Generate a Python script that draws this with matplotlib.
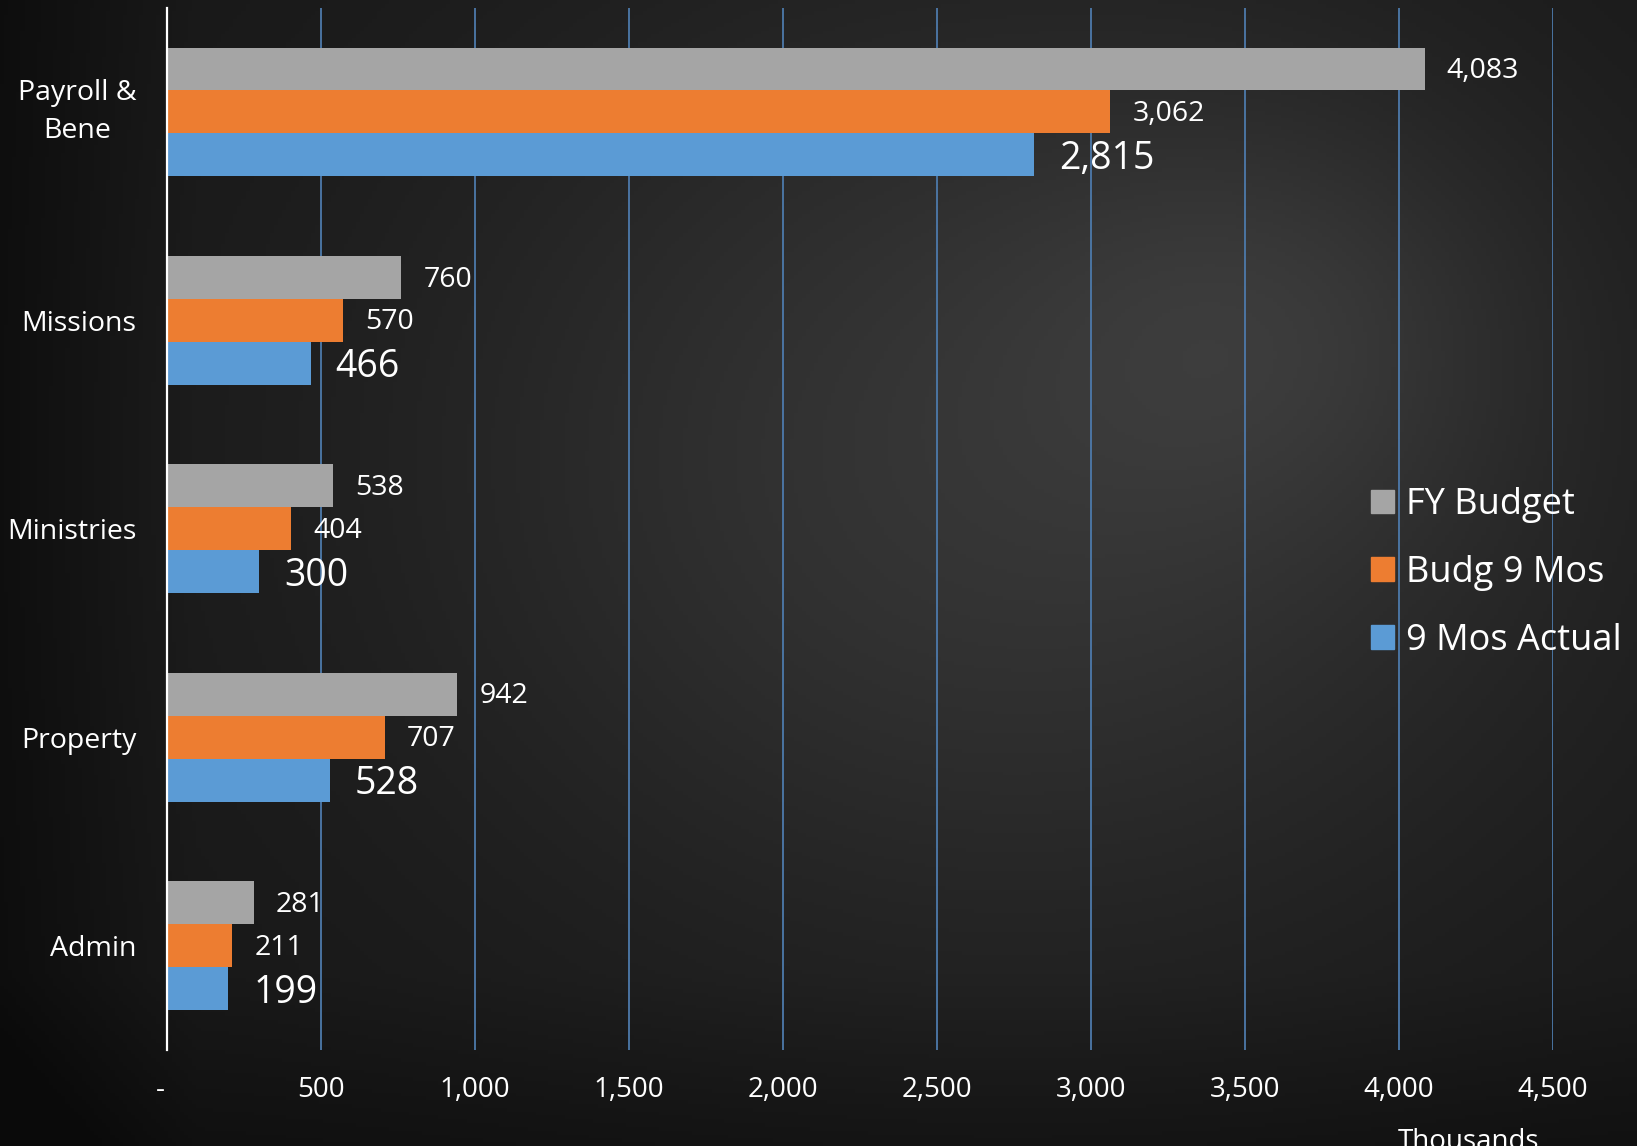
import numpy as np
import matplotlib
matplotlib.use("Agg")
import matplotlib.pyplot as plt
import matplotlib.transforms as mtransforms
from matplotlib.patches import Patch

# ---- data ----
categories = ["Admin", "Property", "Ministries", "Missions", "Payroll &\nBene"]
fy_budget = [281, 942, 538, 760, 4083]
budg_9mos = [211, 707, 404, 570, 3062]
actual_9mos = [199, 528, 300, 466, 2815]
series_names = ["FY Budget", "Budg 9 Mos", "9 Mos Actual"]
xticks = [0, 500, 1000, 1500, 2000, 2500, 3000, 3500, 4000, 4500]
xtick_labels = ["-", "500", "1,000", "1,500", "2,000", "2,500", "3,000", "3,500", "4,000", "4,500"]

C_GRAY = "#A5A5A5"
C_ORANGE = "#ED7D31"
C_BLUE = "#5B9BD5"
FONT = ["Open Sans", "DejaVu Sans"]
plt.rcParams["font.family"] = FONT

W, H = 1637, 1146
fig = plt.figure(figsize=(W / 100, H / 100), dpi=100)

# ---- dark background (smooth decorative gradient) ----
bg = fig.add_axes([0, 0, 1, 1], zorder=-10)
gx, gy = np.meshgrid(np.linspace(0, 1, 400), np.linspace(0, 1, 300))
val = (0.09
       + 0.12 * np.exp(-(((gx - 0.62) / 0.38) ** 2 + ((gy - 0.40) / 0.45) ** 2))
       + 0.05 * np.exp(-(((gx - 0.78) / 0.15) ** 2 + ((gy - 0.28) / 0.18) ** 2))
       - 0.04 * np.clip(0.12 - gx, 0, None) / 0.12
       - 0.03 * np.clip(gy - 0.85, 0, None) / 0.15)
val = np.clip(val, 0.04, 0.3)
bg.imshow(np.dstack([val, val, val]), extent=[0, 1, 0, 1], aspect="auto", origin="upper")
bg.set_axis_off()

# ---- main axes ----
ax = fig.add_axes([167 / W, 1 - 1050 / H, (1553 - 167) / W, (1050 - 7.7) / H])
ax.set_facecolor("none")

y = np.arange(len(categories))
h = 0.206
b1 = ax.barh(y + h, fy_budget, height=h, color=C_GRAY, zorder=3, label=series_names[0])
b2 = ax.barh(y, budg_9mos, height=h, color=C_ORANGE, zorder=3, label=series_names[1])
b3 = ax.barh(y - h, actual_9mos, height=h, color=C_BLUE, zorder=3, label=series_names[2])

fmt = lambda v: f"{v:,.0f}"
t1 = ax.bar_label(b1, labels=[fmt(v) for v in fy_budget], padding=16, color="white", fontsize=20.5)
t2 = ax.bar_label(b2, labels=[fmt(v) for v in budg_9mos], padding=16, color="white", fontsize=20.5)
t3 = ax.bar_label(b3, labels=[fmt(v) for v in actual_9mos], padding=18, color="white", fontsize=27)
for t in t1 + t2:
    t.xyann = (16, -1.5)
for t in t3:
    t.xyann = (18, -3)

ax.set_xlim(0, 4500)
ax.set_ylim(-0.5, 4.5)
ax.set_xticks(xticks)
ax.set_xticklabels(xtick_labels)
ax.set_yticks(y)
# single-line categories as tick labels; the two-line one drawn as a centred text block
ax.set_yticklabels([c if "\n" not in c else "" for c in categories])
ylab_trans = (mtransforms.blended_transform_factory(ax.transAxes, ax.transData)
              + mtransforms.ScaledTranslation(-30 / 100, 0, fig.dpi_scale_trans))
for yi, c in zip(y, categories):
    if "\n" in c:
        ax.text(0, yi, c, transform=ylab_trans, ha="right", va="center",
                multialignment="center", linespacing=1.5, color="white", fontsize=20.5)

ax.tick_params(axis="x", length=0, pad=19, labelsize=20, labelcolor="white")
ax.tick_params(axis="y", length=0, pad=22, labelsize=20.5, labelcolor="white")

# shift the "-" zero label slightly left, like the reference
zl = ax.get_xticklabels()[0]
zl.set_transform(zl.get_transform() + mtransforms.ScaledTranslation(-7 / 100, 0, fig.dpi_scale_trans))

ax.grid(axis="x", color="#4D7AAB", linewidth=1.3, zorder=0)
ax.grid(axis="y", visible=False)
for s in ["top", "right", "bottom"]:
    ax.spines[s].set_visible(False)
ax.spines["left"].set_color("white")
ax.spines["left"].set_linewidth(1.6)
ax.spines["left"].set_zorder(4)

handles = [Patch(color=C_GRAY), Patch(color=C_ORANGE), Patch(color=C_BLUE)]
leg = fig.legend(handles, series_names, loc="center left",
                 bbox_to_anchor=(1370.5 / W, 1 - 573 / H),
                 frameon=False, fontsize=26, labelcolor="white",
                 handlelength=0.64, handleheight=0.64, handletextpad=0.33,
                 labelspacing=0.88, borderpad=0, borderaxespad=0)

fig.text(1468 / W, 1 - 1128 / H, "Thousands", ha="center", va="top",
         color="white", fontsize=20)

fig.savefig("out.png", dpi=100)
